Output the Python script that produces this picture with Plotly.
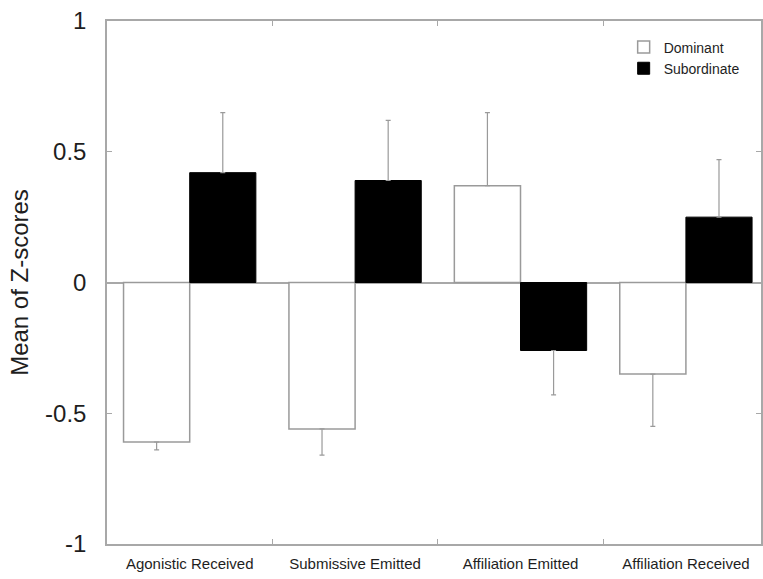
import plotly.graph_objects as go

# Behaviour categories and group means (Z-scores) with one-sided SEM
categories = ["Agonistic Received", "Submissive Emitted", "Affiliation Emitted", "Affiliation Received"]
dominant = [-0.61, -0.56, 0.37, -0.35]
dominant_err = [0.03, 0.10, 0.28, 0.20]
subordinate = [0.42, 0.39, -0.26, 0.25]
subordinate_err = [0.23, 0.23, 0.17, 0.22]
y_ticks = [-1, -0.5, 0, 0.5, 1]
y_tick_labels = ["-1", "-0.5", "0", "0.5", "1"]

AXIS = "#a8a8a8"
TEXT = "#1e1e1e"
FONT = "Liberation Sans, Arial, sans-serif"


def one_sided(values, errs):
    """Error drawn only away from zero."""
    up = [e if v >= 0 else 0 for v, e in zip(values, errs)]
    down = [e if v < 0 else 0 for v, e in zip(values, errs)]
    return up, down


dom_up, dom_down = one_sided(dominant, dominant_err)
sub_up, sub_down = one_sided(subordinate, subordinate_err)

fig = go.Figure()
fig.add_trace(go.Bar(
    name="Dominant", x=categories, y=dominant,
    marker=dict(color="white", line=dict(color="#9a9a9a", width=1.5)),
    error_y=dict(type="data", symmetric=False, array=dom_up, arrayminus=dom_down,
                 color="#9a9a9a", thickness=1.2, width=2.5),
))
fig.add_trace(go.Bar(
    name="Subordinate", x=categories, y=subordinate,
    marker=dict(color="black", line=dict(color="black", width=1)),
    error_y=dict(type="data", symmetric=False, array=sub_up, arrayminus=sub_down,
                 color="#9a9a9a", thickness=1.2, width=2.5),
))

fig.update_layout(
    width=763, height=579,
    margin=dict(l=107, r=0, t=21, b=35),
    paper_bgcolor="white", plot_bgcolor="white",
    barmode="group", bargap=0.2, bargroupgap=0,
    font=dict(family=FONT, color=TEXT),
    showlegend=True,
    legend=dict(
        x=0.79, y=0.98, xanchor="left", yanchor="top",
        font=dict(size=14, color=TEXT), bgcolor="rgba(0,0,0,0)",
        tracegroupgap=0,
    ),
)
fig.update_xaxes(
    range=[-0.5, 3.454], showgrid=False,
    showline=True, linecolor=AXIS, linewidth=1.5, mirror="ticks",
    ticks="inside", tickson="boundaries", ticklen=5, tickcolor=AXIS, tickwidth=1,
    tickfont=dict(size=15, color=TEXT), ticklabelstandoff=5,
)
fig.update_yaxes(
    range=[-1, 1], showgrid=False,
    tickvals=y_ticks, ticktext=y_tick_labels,
    showline=True, linecolor=AXIS, linewidth=1.5, mirror="ticks",
    ticks="inside", ticklen=5, tickcolor=AXIS, tickwidth=1,
    tickfont=dict(size=24, color=TEXT), ticklabelstandoff=14,
    zeroline=True, zerolinecolor=AXIS, zerolinewidth=1.5,
    title=dict(text="Mean of Z-scores", font=dict(size=24, color=TEXT), standoff=10),
)

fig.write_html("out.html")
